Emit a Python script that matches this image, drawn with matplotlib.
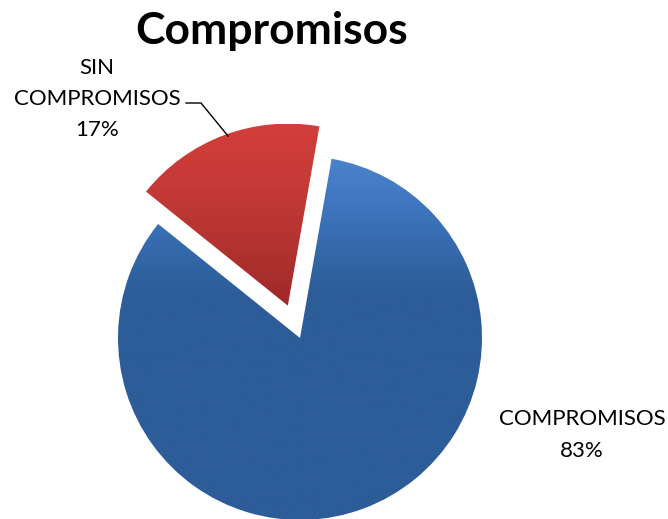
import numpy as np
import matplotlib
matplotlib.use('Agg')
import matplotlib.pyplot as plt
from matplotlib.colors import LinearSegmentedColormap

# data
labels = ['COMPROMISOS', 'SIN\nCOMPROMISOS']
values = [83, 17]
explode = [0, 0.19]   # fraction of radius
title = 'Compromisos'

plt.rcParams['font.family'] = ['Lato', 'DejaVu Sans']

W, H = 668, 519
fig = plt.figure(figsize=(W / 100, H / 100), dpi=100)
ax = fig.add_axes([0, 0, 1, 1])

cx, cy, R = 300, H - 338, 182
wedges, _ = ax.pie(values, explode=[e * R for e in explode], startangle=80,
                   counterclock=False, center=(cx, cy), radius=R,
                   colors=['none', 'none'], wedgeprops=dict(linewidth=0))
ax.set_aspect('equal')
ax.axis('off')

# gradient fills clipped to each wedge
grads = [['#2d5d98'] * 6 + ['#3469ab', '#3f76bf', '#4a83cc'],
         ['#a02828', '#b23330', '#c63a37', '#d23e3b']]
for w, cols in zip(wedges, grads):
    cmap = LinearSegmentedColormap.from_list('g', cols)
    bb = w.get_path().get_extents(w.get_patch_transform())
    grad = np.linspace(0, 1, 256).reshape(-1, 1)
    im = ax.imshow(grad, cmap=cmap, extent=[bb.x0, bb.x1, bb.y0, bb.y1],
                   origin='lower', aspect='auto', zorder=2)
    im.set_clip_path(w)

ax.set_xlim(0, W)
ax.set_ylim(0, H)

ax.text(272, H - 31, title, ha='center', va='center', fontsize=32,
        fontweight='bold', color='black')

pcts = [v / sum(values) * 100 for v in values]
ax.text(97, H - 99, '%s\n%.0f%%' % (labels[1], pcts[1]), ha='center', va='center',
        fontsize=16, linespacing=1.7)
ax.text(582, H - 435, '%s\n%.0f%%' % (labels[0], pcts[0]), ha='center', va='center',
        fontsize=16, linespacing=1.7)

# leader line
ax.plot([186, 201, 228], [H - 103, H - 103, H - 136], color='black', lw=1, zorder=3)

fig.savefig('out.png', dpi=100)
